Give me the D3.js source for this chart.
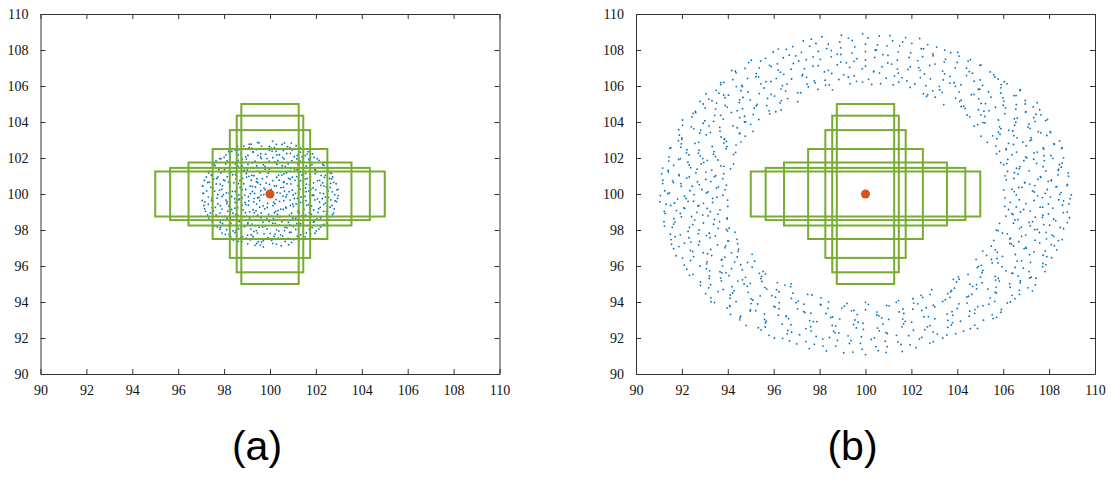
<!DOCTYPE html>
<html>
<head>
<meta charset="utf-8">
<script src="https://cdn.jsdelivr.net/npm/d3@7"></script>
<style>
  body { margin: 0; background: #fff; }
</style>
</head>
<body>
<div id="chart"></div>
<script>
// Canvas size
var width = 1111;
var height = 484;

// Axis ticks, same on both panels
var tickValues = [90, 92, 94, 96, 98, 100, 102, 104, 106, 108, 110];

// Centre marker
var centre = [100, 100];

// Search boxes (same in both panels), edges in data units
var boxLeft   = [98.75, 98.55, 98.25, 97.5, 96.45, 95.65, 95];
var boxRight  = [101.25, 101.45, 101.75, 102.5, 103.55, 104.35, 105];
var boxBottom = [95, 95.65, 96.45, 97.5, 98.25, 98.55, 98.75];
var boxTop    = [105, 104.35, 103.55, 102.5, 101.75, 101.45, 101.25];

// Panel (a): scattered points in a small disc round the centre
var discPoints = [
  [99.35,97.15],[99.71,97.06],[100.49,97.13],
  [98.77,97.36],[99.42,97.25],[99.63,97.34],[100.28,97.22],[100.94,97.31],
  [98.41,97.44],[98.72,97.57],[99.45,97.49],[99.71,97.41],[100.37,97.55],[101.03,97.47],[101.24,97.58],
  [98.22,97.75],[98.81,97.62],[99.02,97.71],[99.74,97.78],[100.18,97.64],[100.46,97.73],[101.19,97.66],[101.77,97.79],
  [97.91,97.83],[98.52,97.96],[98.75,97.85],[99.3,97.92],[100.01,97.81],[100.63,97.97],[100.92,97.88],[101.58,97.84],[102.02,97.95],
  [97.84,98.14],[98.11,98.02],[98.89,98.18],[99.17,98.06],[99.52,98.15],[100.29,98.01],[100.74,98.12],[101.02,98.19],[101.71,98.05],[102.2,98.16],
  [97.58,98.22],[98.3,98.37],[98.51,98.26],[99.22,98.33],[99.8,98.21],[100.12,98.38],[100.87,98.28],[101.34,98.35],[101.63,98.24],[102.35,98.31],
  [97.52,98.56],[97.83,98.43],[98.56,98.52],[99.04,98.41],[99.38,98.58],[99.97,98.47],[100.61,98.55],[100.8,98.42],[101.47,98.59],[101.92,98.46],[102.41,98.53],
  [97.33,98.66],[98.02,98.75],[98.27,98.63],[98.98,98.77],[99.61,98.68],[99.86,98.61],[100.44,98.74],[101.12,98.65],[101.37,98.78],[102.05,98.62],[102.63,98.73],
  [97.4,98.95],[97.65,98.84],[98.39,98.93],[98.6,98.82],[99.31,98.97],[99.94,98.86],[100.19,98.96],[100.85,98.83],[101.28,98.94],[101.81,98.87],[102.09,98.98],[102.72,98.85],
  [97.19,99.03],[97.91,99.16],[98.16,99.05],[98.83,99.12],[99.12,99.01],[99.77,99.17],[100.35,99.08],[100.58,99.14],[101.21,99.02],[101.9,99.11],[102.34,99.04],[102.8,99.18],
  [97.12,99.36],[97.48,99.24],[98.21,99.33],[98.47,99.21],[99.06,99.38],[99.55,99.27],[100.13,99.35],[100.71,99.22],[101.02,99.31],[101.6,99.37],[102.19,99.26],[102.5,99.34],
  [97.5,99.57],[97.73,99.45],[98.48,99.53],[98.95,99.42],[99.29,99.56],[99.9,99.48],[100.42,99.59],[100.99,99.44],[101.44,99.55],[101.68,99.41],[102.41,99.51],[102.9,99.58],
  [97.05,99.64],[97.69,99.77],[98.08,99.66],[98.67,99.73],[99.08,99.62],[99.46,99.78],[100.26,99.69],[100.6,99.63],[101.19,99.76],[101.96,99.67],[102.28,99.74],[102.84,99.61],
  [97.31,99.83],[97.97,99.96],[98.33,99.86],[98.9,99.94],[99.52,99.82],[99.73,99.97],[100.57,99.88],[101.01,99.95],[101.36,99.84],[101.84,99.93],[102.55,99.81],[102.97,99.91],
  [97.08,100.04],[97.59,100.16],[98.22,100.06],[98.48,100.14],[99.15,100.02],[99.6,100.18],[100.31,100.07],[100.83,100.13],[101.11,100.03],[101.69,100.17],[102.18,100.05],[102.71,100.12],
  [97.42,100.37],[97.8,100.22],[98.56,100.33],[98.79,100.24],[99.37,100.39],[100.05,100.26],[100.48,100.35],[100.97,100.21],[101.55,100.34],[101.78,100.27],[102.46,100.38],[102.92,100.23],
  [97.07,100.44],[97.66,100.56],[97.93,100.47],[98.62,100.58],[99.24,100.42],[99.58,100.53],[100.19,100.45],[100.74,100.57],[101.27,100.43],[101.58,100.55],[102.22,100.48],[102.64,100.59],
  [97.36,100.66],[97.98,100.78],[98.43,100.63],[98.69,100.75],[99.41,100.68],[99.83,100.61],[100.4,100.77],[100.62,100.67],[101.33,100.74],[101.9,100.62],[102.16,100.76],[102.78,100.65],
  [97.23,100.95],[97.55,100.83],[98.14,100.96],[98.81,100.87],[99.08,100.98],[99.67,100.85],[100.29,100.93],[100.88,100.82],[101.16,100.97],[101.62,100.86],[102.37,100.92],[102.69,100.84],
  [97.47,101.04],[97.86,101.17],[98.5,101.07],[98.97,101.14],[99.3,101.02],[99.93,101.16],[100.52,101.05],[100.72,101.18],[101.43,101.08],[101.97,101.13],[102.23,101.03],[102.68,101.15],
  [97.35,101.25],[98.02,101.36],[98.31,101.22],[98.88,101.33],[99.49,101.27],[99.79,101.38],[100.45,101.24],[101.07,101.35],[101.31,101.21],[101.95,101.37],[102.52,101.28],
  [97.61,101.58],[97.89,101.43],[98.61,101.55],[99.14,101.46],[99.42,101.57],[100.08,101.44],[100.67,101.53],[100.9,101.41],[101.58,101.56],[102.09,101.47],[102.35,101.59],
  [97.56,101.64],[98.25,101.77],[98.49,101.66],[99.23,101.74],[99.71,101.62],[100.2,101.78],[100.79,101.67],[101.24,101.73],[101.83,101.63],[102.4,101.76],
  [97.81,101.96],[98.13,101.84],[98.79,101.93],[99.35,101.82],[99.62,101.97],[100.34,101.86],[100.61,101.95],[101.31,101.83],[101.69,101.94],[102.14,101.87],
  [98.0,102.04],[98.62,102.17],[98.94,102.06],[99.47,102.15],[100.12,102.02],[100.41,102.18],[101.06,102.07],[101.54,102.13],[101.92,102.03],
  [98.2,102.36],[98.54,102.23],[99.27,102.34],[99.81,102.21],[100.09,102.37],[100.73,102.25],[101.33,102.33],[101.62,102.22],
  [98.48,102.44],[99.09,102.57],[99.41,102.46],[100.05,102.55],[100.58,102.42],[100.87,102.58],[101.51,102.49],
  [98.86,102.66],[99.18,102.77],[99.97,102.64],[100.52,102.75],[101.14,102.68],
  [99.46,102.87],[100.11,102.94],[100.63,102.84],
  // second sweep
  [99.03,97.23],[99.58,97.16],[100.12,97.26],[100.81,97.18],
  [98.62,97.37],[99.14,97.45],[99.49,97.35],[100.07,97.43],[100.66,97.36],[101.28,97.44],
  [98.29,97.63],[98.97,97.55],[99.26,97.64],[99.91,97.57],[100.55,97.66],[100.79,97.54],[101.53,97.62],
  [98.05,97.76],[98.47,97.85],[99.18,97.74],[99.45,97.83],[100.22,97.77],[100.85,97.86],[101.34,97.73],[101.96,97.82],
  [97.82,98.04],[98.39,97.95],[98.63,98.07],[99.41,97.97],[99.87,98.06],[100.39,97.94],[101.12,98.03],[101.45,97.96],[102.13,98.05],
  [97.7,98.17],[98.2,98.26],[98.74,98.14],[99.36,98.24],[99.68,98.16],[100.4,98.27],[100.66,98.15],[101.27,98.23],[101.84,98.13],[102.26,98.25],
  [97.49,98.45],[97.93,98.36],[98.66,98.47],[99.03,98.34],[99.69,98.43],[100.23,98.37],[100.52,98.46],[101.17,98.35],[101.89,98.44],[102.47,98.38],
  [97.44,98.55],[98.13,98.64],[98.42,98.57],[99.11,98.66],[99.54,98.53],[100.15,98.63],[100.73,98.56],[100.99,98.65],[101.66,98.54],[102.21,98.67],[102.58,98.58],
  [97.28,98.84],[97.74,98.76],[98.5,98.85],[98.88,98.73],[99.46,98.83],[100.07,98.77],[100.33,98.86],[101.02,98.74],[101.55,98.82],[101.94,98.75],[102.46,98.87],
  [97.54,99.06],[97.82,98.94],[98.28,99.05],[98.93,98.96],[99.39,99.07],[99.62,98.95],[100.25,99.04],[100.94,98.93],[101.25,99.06],[101.71,98.97],[102.46,99.03],[102.77,98.94],
  [97.15,99.17],[97.62,99.26],[98.33,99.15],[98.59,99.24],[99.26,99.13],[99.88,99.25],[100.47,99.16],[100.69,99.27],[101.48,99.14],[101.73,99.23],[102.12,99.18],[102.62,99.27],
  [97.31,99.43],[97.84,99.35],[98.12,99.47],[98.78,99.36],[99.42,99.44],[99.7,99.34],[100.21,99.46],[100.89,99.37],[101.14,99.45],[101.81,99.33],[102.34,99.42],[102.7,99.36],
  [97.16,99.56],[97.45,99.65],[98.13,99.57],[98.63,99.67],[98.91,99.54],[99.55,99.64],[100.16,99.55],[100.88,99.66],[101.33,99.53],[101.57,99.63],[102.16,99.56],[102.65,99.67],
  [97.47,99.77],[97.91,99.86],[98.46,99.74],[98.79,99.78],[99.06,99.85],[99.31,99.76],[100.7,99.84],[101.06,99.75],[101.53,99.87],[102.07,99.73],[102.41,99.83],[102.94,99.76],
  [97.1,100.04],[97.72,99.96],[98.1,100.06],[98.64,99.95],[99.33,100.03],[99.61,99.94],[100.44,100.05],[100.73,99.97],[101.25,100.06],[101.91,99.93],[102.33,100.02],[102.82,99.96],
  [97.24,100.17],[97.9,100.26],[98.36,100.15],[98.94,100.25],[99.23,100.14],[99.79,100.24],[100.63,100.16],[101.31,100.27],[101.57,100.13],[101.99,100.23],[102.53,100.18],[102.96,100.26],
  [97.06,100.44],[97.52,100.35],[98.27,100.46],[98.7,100.36],[99.14,100.43],[99.74,100.33],[100.28,100.45],[100.59,100.37],[101.22,100.47],[101.88,100.34],[102.35,100.44],[102.62,100.36],
  [97.29,100.64],[97.83,100.55],[98.19,100.66],[98.86,100.57],[99.47,100.63],[99.98,100.54],[100.58,100.65],[100.91,100.56],[101.45,100.67],[101.72,100.53],[102.29,100.62],[102.88,100.57],
  [97.14,100.75],[97.68,100.86],[98.04,100.73],[98.52,100.84],[99.18,100.77],[99.43,100.85],[100.12,100.74],[100.81,100.87],[101.09,100.76],[101.53,100.83],[102.07,100.73],[102.6,100.86],
  [97.44,101.06],[97.73,100.95],[98.37,101.07],[98.98,100.94],[99.21,101.03],[99.86,100.96],[100.38,101.05],[100.97,100.93],[101.39,101.06],[101.76,100.97],[102.41,101.04],[102.73,100.95],
  [97.32,101.16],[97.99,101.25],[98.23,101.14],[98.82,101.27],[99.56,101.17],[99.91,101.24],[100.61,101.13],[100.86,101.26],[101.55,101.15],[102.04,101.23],[102.61,101.17],
  [97.49,101.45],[97.77,101.36],[98.48,101.44],[99.01,101.34],[99.27,101.46],[99.97,101.37],[100.54,101.43],[101.18,101.35],[101.46,101.47],[101.98,101.33],[102.56,101.42],
  [97.5,101.55],[98.07,101.66],[98.79,101.56],[99.04,101.64],[99.78,101.53],[100.3,101.65],[100.53,101.57],[101.21,101.67],[101.75,101.54],[102.3,101.63],
  [97.65,101.84],[98.38,101.75],[98.61,101.86],[99.24,101.76],[99.97,101.83],[100.27,101.74],[100.95,101.85],[101.42,101.77],[101.72,101.86],[102.31,101.74],
  [97.86,101.96],[98.25,102.05],[98.97,101.94],[99.59,102.06],[99.87,101.97],[100.55,102.04],[101.17,101.95],[101.4,102.07],[102.06,101.96],
  [98.08,102.16],[98.74,102.25],[99.04,102.14],[99.6,102.24],[100.3,102.17],[100.89,102.26],[101.18,102.15],[101.85,102.23],
  [98.34,102.36],[98.63,102.45],[99.25,102.34],[99.98,102.43],[100.27,102.37],[100.96,102.44],[101.66,102.35],
  [98.58,102.64],[99.21,102.55],[99.63,102.66],[100.19,102.57],[100.76,102.63],[101.32,102.56],
  [99.1,102.77],[99.52,102.84],[100.28,102.76],[100.93,102.83]
];

// Panel (b): scattered points in a wide ring round the centre
var ringPoints = [
  // upper half
  [93.88,100.23],[93.07,100.05],[92.35,100.18],[91.39,100.02],[106.39,100.27],[107.35,100.11],[107.92,100.25],[108.52,100.08],
  [93.51,100.33],[92.76,100.51],[91.97,100.43],[91.16,100.58],[106.82,100.37],[107.15,100.55],[108.3,100.4],[108.78,100.47],
  [93.78,100.85],[93.26,100.69],[92.21,100.88],[91.63,100.64],[106.13,100.79],[106.95,100.62],[107.52,100.82],[108.09,100.73],
  [93.42,100.96],[92.61,101.17],[91.88,101.02],[91.12,101.12],[106.49,101.18],[107.64,100.93],[108.39,101.06],[108.85,100.99],
  [94.12,101.4],[93.05,101.22],[92.38,101.46],[91.4,101.31],[106.19,101.25],[106.58,101.43],[107.86,101.28],[108.53,101.49],
  [93.83,101.54],[92.84,101.68],[92.26,101.77],[91.64,101.59],[105.89,101.74],[106.72,101.52],[107.46,101.7],[108.45,101.64],
  [93.46,102.08],[93.11,101.87],[91.93,101.97],[91.43,101.83],[106.2,101.92],[106.98,102.06],[107.79,101.85],[108.63,102.01],
  [94.25,102.2],[93.4,102.35],[92.8,102.12],[92.2,102.29],[105.84,102.37],[106.38,102.18],[107.48,102.33],[108.08,102.14],
  [93.96,102.64],[92.75,102.43],[91.95,102.6],[91.47,102.53],[106.13,102.46],[107.0,102.68],[107.77,102.5],[108.57,102.58],
  [94.36,102.72],[93.94,102.92],[92.57,102.81],[91.85,102.96],[105.31,102.87],[106.45,102.75],[107.17,102.97],[108.21,102.78],
  [94.76,103.21],[93.86,103.06],[93.06,103.28],[92.0,103.03],[105.54,103.23],[106.6,103.12],[107.23,103.02],[107.9,103.25],
  [94.51,103.35],[93.66,103.49],[92.78,103.39],[91.86,103.57],[105.86,103.32],[106.24,103.54],[107.53,103.46],[108.07,103.41],
  [95.0,103.87],[94.41,103.68],[93.18,103.78],[92.52,103.62],[104.89,103.85],[105.84,103.73],[106.5,103.82],[107.17,103.65],
  [94.78,104.01],[93.8,104.16],[92.93,103.93],[92.03,104.11],[105.12,103.97],[106.49,104.18],[107.39,104.04],[107.93,104.14],
  [95.83,104.45],[94.52,104.24],[93.69,104.37],[92.49,104.48],[104.54,104.29],[105.03,104.4],[106.61,104.22],[107.43,104.43],
  [96.09,104.57],[95.15,104.77],[94.41,104.63],[93.47,104.72],[92.6,104.52],[104.34,104.75],[105.16,104.6],[106.1,104.78],[106.97,104.55],[107.59,104.68],
  [96.28,105.06],[95.7,104.91],[94.5,105.08],[93.97,104.83],[92.93,105.0],[104.17,104.86],[105.04,105.03],[105.66,104.82],[106.57,104.97],[107.48,105.07],
  [97.05,105.13],[95.73,105.31],[94.98,105.22],[93.88,105.35],[93.31,105.18],[103.04,105.38],[104.1,105.15],[104.93,105.29],[105.99,105.34],[106.96,105.2],
  [97.05,105.63],[96.04,105.44],[94.88,105.67],[93.82,105.5],[93.05,105.57],[102.66,105.42],[103.34,105.65],[104.73,105.53],[105.36,105.68],[106.56,105.47],
  [98.56,105.79],[97.51,105.95],[96.52,105.72],[95.58,105.89],[94.37,105.97],[93.49,105.76],[101.94,105.92],[102.93,105.73],[103.92,105.98],[104.91,105.82],[105.9,105.9],[106.73,105.75],
  [93.69,106.19],[94.61,106.03],[95.66,106.24],[96.58,106.1],[97.77,106.28],[98.42,106.06],[99.61,106.26],[100.66,106.13],[101.45,106.21],[102.63,106.02],[103.68,106.16],[104.73,106.27],[105.91,106.08],
  [94.22,106.35],[95.23,106.52],[96.11,106.41],[97.24,106.57],[98.24,106.32],[99.25,106.5],[100.13,106.37],[101.26,106.55],[102.39,106.47],[103.39,106.34],[104.4,106.58],[105.78,106.39],
  [94.17,106.86],[95.24,106.69],[96.19,106.88],[97.26,106.65],[98.21,106.78],[99.05,106.62],[100.36,106.83],[101.43,106.72],[102.38,106.87],[103.45,106.67],[104.52,106.8],[105.59,106.63],
  [94.75,106.98],[95.82,107.15],[96.76,106.93],[97.71,107.1],[98.77,107.18],[99.86,106.96],[100.72,107.07],[101.85,106.92],[102.8,107.14],[103.91,107.01],[105.03,107.17],
  [95.02,107.43],[96.16,107.23],[97.09,107.39],[98.03,107.48],[99.17,107.29],[100.0,107.45],[101.14,107.22],[102.28,107.41],[103.43,107.33],[104.57,107.46],
  [95.64,107.54],[96.68,107.71],[97.72,107.62],[98.77,107.77],[99.62,107.52],[100.76,107.74],[101.9,107.59],[102.94,107.78],[104.08,107.66],
  [96.2,108.05],[97.21,107.87],[98.31,108.08],[99.41,107.83],[100.42,107.99],[101.43,107.9],[102.53,108.07],[103.71,107.85],
  [96.83,108.19],[97.84,108.36],[98.92,108.12],[100.0,108.32],[100.94,108.23],[102.02,108.37],[103.1,108.16],
  [97.64,108.6],[98.88,108.45],[100.11,108.67],[101.18,108.51],[102.36,108.64],
  [98.95,108.82],[99.88,108.9],[101.07,108.8],
  // lower half
  [93.34,99.76],[92.53,99.97],[91.81,99.72],[91.06,99.91],[106.57,99.95],[107.71,99.8],[108.46,99.98],[108.91,99.74],
  [93.99,99.66],[92.94,99.48],[92.27,99.59],[91.31,99.43],[106.31,99.53],[106.7,99.68],[107.97,99.45],[108.63,99.62],
  [93.66,99.12],[92.69,99.33],[92.12,99.2],[91.51,99.36],[106.07,99.31],[106.89,99.14],[107.61,99.27],[108.58,99.38],
  [93.24,99.02],[92.91,98.83],[91.76,99.08],[91.27,98.92],[106.43,98.86],[107.18,99.05],[107.97,98.89],[108.79,98.99],
  [93.97,98.61],[93.14,98.78],[92.56,98.55],[91.98,98.73],[106.12,98.77],[106.64,98.58],[107.71,98.7],[108.29,98.52],
  [93.64,98.47],[92.47,98.3],[91.7,98.44],[91.24,98.22],[106.45,98.38],[107.28,98.46],[108.02,98.27],[108.79,98.41],
  [93.99,97.95],[93.58,98.09],[92.27,97.92],[91.58,98.15],[105.7,97.99],[106.79,98.17],[107.48,98.03],[108.48,98.14],
  [94.31,97.88],[93.46,97.67],[92.71,97.8],[91.7,97.63],[105.97,97.84],[106.98,97.72],[107.58,97.86],[108.21,97.65],
  [94.03,97.38],[93.23,97.57],[92.39,97.33],[91.53,97.47],[106.33,97.55],[106.68,97.35],[107.89,97.51],[108.41,97.41],
  [94.43,97.24],[93.87,97.02],[92.73,97.18],[92.11,97.27],[105.48,97.1],[106.36,97.22],[106.98,97.04],[107.59,97.28],
  [94.16,96.73],[93.26,96.92],[92.47,96.81],[91.64,96.96],[105.74,96.76],[107.0,96.98],[107.83,96.84],[108.33,96.9],
  [95.06,96.65],[93.87,96.49],[93.12,96.68],[92.03,96.44],[105.28,96.59],[105.73,96.42],[107.15,96.63],[107.9,96.52],
  [94.86,96.2],[93.74,96.36],[93.08,96.12],[92.38,96.31],[104.82,96.37],[105.77,96.17],[106.61,96.27],[107.73,96.14],
  [94.56,96.07],[94.16,95.85],[92.79,96.0],[92.21,95.82],[105.04,96.04],[105.95,95.96],[106.88,95.88],[107.86,96.08],
  [95.64,95.56],[94.63,95.78],[93.92,95.62],[93.21,95.73],[104.47,95.53],[105.11,95.75],[106.42,95.59],[107.13,95.69],
  [95.47,95.42],[94.64,95.23],[94.05,95.46],[93.19,95.31],[92.33,95.48],[103.83,95.26],[105.01,95.38],[105.67,95.22],[106.65,95.44],[107.16,95.34],
  [96.49,94.94],[95.49,95.14],[94.71,95.0],[93.72,95.17],[92.81,94.92],[103.97,95.11],[104.84,94.97],[105.83,95.16],[106.74,95.07],[107.4,94.95],
  [96.74,94.85],[96.12,94.68],[94.85,94.88],[94.27,94.63],[93.17,94.79],[103.75,94.65],[104.67,94.87],[105.33,94.72],[106.3,94.82],[107.27,94.62],
  [97.67,94.39],[96.23,94.57],[95.41,94.34],[94.21,94.5],[93.58,94.58],[102.42,94.37],[103.58,94.47],[104.49,94.32],[105.65,94.55],[106.71,94.42],
  [98.06,94.23],[97.07,94.05],[96.08,94.27],[95.09,94.11],[94.1,94.21],[93.27,94.02],[101.44,94.08],[102.49,94.26],[103.48,94.13],[104.42,94.28],[105.63,94.04],[106.51,94.19],
  [94.09,93.75],[95.01,93.91],[96.06,93.72],[96.98,93.96],[98.03,93.87],[99.08,93.77],[100.0,93.98],[100.92,93.81],[102.1,93.94],[103.02,93.73],[104.07,93.9],[105.12,93.79],[106.18,93.95],
  [93.97,93.67],[94.98,93.5],[96.23,93.63],[97.36,93.42],[98.37,93.65],[99.5,93.53],[100.5,93.44],[101.63,93.61],[102.64,93.68],[103.77,93.46],[104.77,93.58],[105.9,93.43],
  [94.53,93.13],[95.6,93.34],[96.55,93.22],[97.62,93.38],[98.57,93.17],[99.64,93.3],[100.71,93.12],[101.67,93.36],[102.74,93.19],[103.81,93.27],[104.76,93.37],[105.71,93.15],
  [94.52,93.01],[95.64,92.84],[96.65,93.08],[97.88,92.91],[98.88,93.05],[99.89,92.82],[101.01,93.03],[102.01,92.88],[103.02,93.07],[104.14,92.93],[105.14,92.99],
  [95.33,92.57],[96.37,92.77],[97.4,92.52],[98.55,92.7],[99.48,92.75],[100.52,92.55],[101.66,92.78],[102.7,92.62],[103.74,92.72],[104.88,92.53],
  [95.45,92.45],[96.59,92.23],[97.63,92.4],[98.67,92.29],[99.91,92.48],[100.95,92.25],[102.09,92.43],[103.13,92.22],[104.27,92.38],
  [96.03,92.0],[97.13,92.18],[98.14,91.94],[99.24,92.12],[100.25,91.92],[101.35,92.15],[102.45,92.03],[103.54,92.17],
  [96.69,91.84],[97.77,91.65],[98.78,91.87],[99.78,91.7],[100.86,91.82],[101.94,91.62],[102.95,91.79],
  [97.55,91.41],[98.7,91.55],[99.85,91.38],[100.95,91.52],[102.2,91.47],
  [99.05,91.18],[100.0,91.08],[100.9,91.2],
  // second sweep, upper half
  [93.79,99.93],[93.13,100.11],[92.11,99.88],[91.45,100.06],[106.48,100.13],[107.5,99.9],[107.83,100.03],[108.97,99.95],
  [93.59,100.4],[92.87,100.25],[92.45,100.43],[91.25,100.18],[106.02,100.22],[106.68,100.36],[107.28,100.17],[108.33,100.41],
  [93.94,100.49],[92.68,100.68],[91.95,100.58],[91.59,100.73],[106.93,100.64],[107.38,100.47],[107.96,100.7],[108.8,100.54],
  [93.47,101.02],[93.04,100.81],[92.32,100.95],[91.17,100.77],[106.08,101.01],[106.47,100.86],[107.62,100.97],[108.1,100.79],
  [93.82,101.13],[93.3,101.33],[91.87,101.08],[91.41,101.23],[106.64,101.1],[107.13,101.29],[108.4,101.32],[108.83,101.17],
  [93.7,101.56],[92.66,101.38],[92.32,101.61],[91.16,101.44],[106.02,101.63],[106.7,101.4],[107.74,101.52],[108.41,101.37],
  [94.25,101.67],[93.57,101.89],[92.95,101.76],[91.86,101.92],[106.15,101.69],[106.9,101.85],[107.33,101.93],[108.57,101.72],
  [93.38,102.21],[92.91,101.97],[92.31,102.17],[91.44,102.05],[105.71,102.23],[107.03,102.01],[107.78,102.13],[108.16,101.98],
  [94.34,102.31],[93.93,102.52],[92.72,102.27],[92.22,102.46],[106.13,102.5],[106.58,102.33],[107.34,102.28],[108.54,102.53],
  [93.83,102.83],[93.32,102.64],[91.97,102.79],[91.52,102.58],[105.68,102.66],[106.23,102.81],[107.74,102.57],[108.23,102.77],
  [94.57,102.9],[93.85,103.04],[92.73,102.87],[92.0,103.12],[105.73,103.07],[106.85,102.89],[107.21,103.13],[108.46,102.95],
  [94.52,103.38],[93.71,103.17],[93.24,103.42],[91.89,103.27],[105.04,103.21],[105.79,103.43],[106.46,103.24],[107.64,103.4],
  [95.1,103.48],[93.65,103.7],[92.82,103.55],[92.41,103.73],[105.9,103.63],[106.42,103.5],[107.08,103.72],[108.04,103.47],
  [94.73,104.0],[94.23,103.79],[93.38,104.03],[92.03,103.83],[104.74,103.77],[105.2,103.95],[106.55,103.99],[107.12,103.88],
  [95.35,104.14],[94.73,104.32],[93.0,104.07],[92.44,104.28],[105.2,104.31],[105.79,104.11],[107.33,104.24],[107.85,104.08],
  [95.8,104.62],[95.11,104.42],[94.16,104.53],[93.43,104.37],[92.59,104.59],[104.43,104.39],[105.38,104.63],[106.07,104.46],[106.99,104.57],[107.64,104.4],
  [96.32,104.67],[95.24,104.9],[94.64,104.74],[93.89,104.92],[93.01,104.78],[104.28,104.88],[104.92,104.68],[106.0,104.93],[106.55,104.71],[107.31,104.84],
  [96.33,105.19],[95.28,104.98],[94.52,105.23],[93.51,105.05],[92.79,105.14],[103.41,104.97],[104.17,105.21],[105.23,105.02],[106.03,105.16],[106.96,105.0],
  [96.61,105.3],[95.89,105.53],[94.66,105.36],[94.03,105.49],[93.17,105.27],[102.71,105.51],[103.93,105.33],[104.61,105.52],[105.47,105.38],[106.47,105.46],
  [97.93,105.81],[97.18,105.63],[96.32,105.83],[95.37,105.58],[94.57,105.74],[93.61,105.6],[102.52,105.57],[103.23,105.78],[104.08,105.66],[104.98,105.82],[105.89,105.61],[106.74,105.8],
  [93.69,106.08],[94.63,105.97],[95.44,106.12],[96.38,106.02],[97.45,106.1],[98.26,106.05],[99.33,106.13],[100.27,106.09],[101.21,106.06],[102.15,106.11],[103.22,105.98],[104.16,106.07],[105.1,106.03],[106.17,106.12],
  [93.83,106.2],[94.86,106.42],[95.88,106.25],[96.78,106.39],[97.81,106.17],[98.84,106.36],[99.87,106.22],[100.9,106.43],[101.8,106.28],[102.83,106.4],[103.86,106.18],[105.0,106.34],[106.04,106.24],
  [94.36,106.73],[95.34,106.51],[96.44,106.65],[97.43,106.48],[98.53,106.7],[99.51,106.56],[100.61,106.72],[101.59,106.47],[102.57,106.67],[103.68,106.54],[104.66,106.71],[105.64,106.5],
  [94.33,106.82],[95.37,107.01],[96.29,106.77],[97.34,106.96],[98.38,106.87],[99.31,107.03],[100.35,106.79],[101.39,106.94],[102.32,107.02],[103.36,106.83],[104.4,106.99],[105.44,106.78],
  [94.91,107.3],[95.89,107.08],[96.86,107.25],[97.94,107.13],[98.92,107.33],[100.0,107.1],[100.97,107.28],[101.95,107.07],[103.03,107.22],[104.0,107.31],[104.98,107.15],
  [95.43,107.39],[96.42,107.57],[97.42,107.46],[98.51,107.62],[99.5,107.37],[100.4,107.59],[101.39,107.43],[102.49,107.63],[103.48,107.48],[104.47,107.38],
  [95.98,107.89],[96.96,107.67],[97.94,107.92],[98.93,107.75],[100.0,107.91],[100.98,107.7],[101.97,107.84],[102.95,107.68],[104.02,107.87],
  [96.55,108.04],[97.57,108.21],[98.51,107.97],[99.53,108.17],[100.47,108.0],[101.49,108.23],[102.43,108.07],[103.45,107.99],
  [97.29,108.5],[98.38,108.32],[99.42,108.53],[100.52,108.28],[101.62,108.45],[102.71,108.3],
  [98.1,108.74],[99.25,108.66],[100.6,108.78],[101.75,108.69],
  // second sweep, lower half
  [93.53,99.82],[92.51,99.6],[92.18,99.75],[91.04,99.57],[106.08,99.79],[107.34,99.64],[108.06,99.83],[108.42,99.68],
  [94.0,99.31],[93.34,99.53],[92.74,99.36],[91.68,99.5],[106.57,99.28],[106.99,99.47],[107.72,99.27],[108.86,99.45],
  [93.1,99.2],[92.65,98.98],[92.08,99.23],[91.23,99.03],[106.23,99.14],[106.75,99.0],[108.16,99.22],[108.62,98.97],
  [93.97,98.67],[93.57,98.88],[92.42,98.75],[91.93,98.92],[106.37,98.91],[107.4,98.71],[107.73,98.82],[108.89,98.68],
  [93.42,98.59],[92.94,98.39],[91.65,98.63],[91.22,98.46],[105.84,98.37],[106.51,98.56],[107.13,98.42],[108.2,98.61],
  [94.06,98.1],[93.38,98.32],[92.33,98.14],[91.64,98.33],[106.71,98.08],[107.18,98.24],[107.77,98.3],[108.63,98.07],
  [93.94,98.03],[93.19,97.82],[92.75,98.0],[91.5,97.77],[105.78,97.96],[106.18,97.79],[107.37,98.02],[107.87,97.87],
  [94.4,97.48],[93.07,97.69],[92.31,97.57],[91.93,97.73],[106.29,97.5],[106.8,97.65],[108.13,97.71],[108.57,97.47],
  [94.0,97.4],[93.55,97.17],[92.77,97.36],[91.55,97.21],[105.59,97.42],[106.29,97.25],[107.39,97.43],[108.1,97.19],
  [94.47,96.93],[93.91,97.12],[92.37,96.87],[91.87,97.08],[105.66,96.9],[106.45,97.11],[106.91,96.96],[108.23,97.13],
  [94.45,96.81],[93.3,96.58],[92.93,96.74],[91.75,96.57],[105.11,96.83],[106.53,96.64],[107.34,96.79],[107.74,96.6],
  [95.17,96.27],[94.41,96.5],[93.72,96.33],[92.51,96.52],[105.49,96.36],[105.97,96.53],[106.8,96.29],[108.11,96.46],
  [94.3,96.22],[93.77,96.01],[93.1,96.23],[92.1,96.05],[104.92,95.98],[105.52,96.17],[107.19,96.2],[107.72,95.97],
  [95.54,95.7],[95.06,95.93],[93.66,95.68],[93.07,95.85],[104.87,95.91],[106.12,95.73],[106.52,95.92],[107.82,95.69],
  [95.38,95.59],[94.77,95.37],[93.74,95.62],[93.2,95.44],[92.48,95.54],[104.05,95.4],[105.08,95.63],[105.65,95.42],[106.38,95.6],[107.22,95.38],
  [96.16,95.08],[95.44,95.3],[94.44,95.16],[93.69,95.33],[92.81,95.11],[104.08,95.27],[105.08,95.07],[105.79,95.31],[106.75,95.18],[107.43,95.32],
  [96.76,95.01],[95.62,94.8],[94.98,95.03],[94.18,94.85],[93.25,94.96],[103.88,94.77],[104.55,94.99],[105.69,94.83],[106.28,95.02],[107.08,94.79],
  [96.84,94.49],[95.7,94.72],[94.89,94.54],[93.8,94.7],[93.03,94.47],[102.89,94.68],[103.71,94.57],[104.84,94.73],[105.7,94.5],[106.7,94.65],
  [97.48,94.42],[96.77,94.2],[95.92,94.35],[95.02,94.17],[94.11,94.39],[93.26,94.24],[102.07,94.18],[102.82,94.41],[103.68,94.26],[104.63,94.43],[105.43,94.22],[106.39,94.37],
  [93.42,93.97],[94.36,94.02],[95.3,93.89],[96.24,93.96],[97.32,93.88],[98.39,94.01],[99.19,93.92],[100.13,93.87],[101.34,93.98],[102.28,93.9],[103.36,94.03],[104.43,93.94],[105.37,93.88],[106.31,94.0],
  [94.08,93.8],[94.98,93.58],[96.01,93.76],[97.04,93.62],[98.07,93.83],[98.97,93.66],[100.0,93.57],[101.03,93.79],[102.06,93.6],[102.96,93.82],[103.99,93.64],[104.89,93.74],[105.92,93.59],
  [94.12,93.31],[95.22,93.52],[96.2,93.27],[97.3,93.47],[98.28,93.36],[99.39,93.51],[100.49,93.28],[101.47,93.45],[102.45,93.53],[103.56,93.33],[104.54,93.49],[105.52,93.29],
  [94.56,93.22],[95.6,93.03],[96.53,93.2],[97.57,92.97],[98.49,93.14],[99.54,93.0],[100.58,93.23],[101.62,93.05],[102.55,93.18],[103.59,92.98],[104.52,93.21],[105.56,93.08],
  [94.8,92.7],[95.67,92.93],[96.75,92.74],[97.73,92.91],[98.7,92.67],[99.68,92.88],[100.76,92.77],[101.73,92.92],[102.81,92.69],[103.79,92.85],[104.76,92.72],
  [95.63,92.61],[96.62,92.42],[97.61,92.63],[98.61,92.38],[99.6,92.56],[100.6,92.4],[101.59,92.62],[102.58,92.46],[103.58,92.59],[104.57,92.52],
  [95.8,92.15],[96.78,92.32],[97.85,92.09],[98.84,92.28],[99.82,92.07],[100.89,92.3],[101.88,92.13],[102.95,92.33],[103.93,92.24],
  [96.39,91.98],[97.41,91.8],[98.43,92.03],[99.37,91.86],[100.39,92.01],[101.41,91.78],[102.35,91.95],[103.37,92.0],
  [97.0,91.67],[98.15,91.55],[99.3,91.7],[100.45,91.52],[101.55,91.64],[102.8,91.72],
  [98.3,91.28],[99.45,91.22],[100.55,91.3],[101.6,91.25]
];

// Colours (MATLAB default palette)
var pointColor = "#0072bd";
var boxColor = "#77ac30";
var centreColor = "#d95319";
var axisColor = "#333333";
var tickFont = "'Liberation Serif', 'DejaVu Serif', serif";

var svg = d3.select("#chart").append("svg")
    .attr("width", width)
    .attr("height", height);

// Draw one panel: scatter, boxes, centre, boxed axes and caption
function drawPanel(left, points, caption) {
  var plotW = 459, plotH = 360, top = 14;

  var x = d3.scaleLinear().domain([90, 110]).range([left, left + plotW]);
  var y = d3.scaleLinear().domain([90, 110]).range([top + plotH, top]);

  var g = svg.append("g");

  // scatter
  g.append("g").selectAll("circle")
    .data(points)
    .enter().append("circle")
      .attr("cx", function(d) { return x(d[0]); })
      .attr("cy", function(d) { return y(d[1]); })
      .attr("r", 0.9)
      .attr("fill", pointColor);

  // search boxes
  g.append("g").selectAll("rect")
    .data(boxLeft)
    .enter().append("rect")
      .attr("x", function(d, i) { return x(boxLeft[i]); })
      .attr("y", function(d, i) { return y(boxTop[i]); })
      .attr("width", function(d, i) { return x(boxRight[i]) - x(boxLeft[i]); })
      .attr("height", function(d, i) { return y(boxBottom[i]) - y(boxTop[i]); })
      .attr("fill", "none")
      .attr("stroke", boxColor)
      .attr("stroke-width", 2);

  g.append("circle")
    .attr("cx", x(centre[0]))
    .attr("cy", y(centre[1]))
    .attr("r", 4.5)
    .attr("fill", centreColor);

  // axes with inward ticks on all four sides
  var axisStyle = function(sel) {
    sel.attr("font-family", tickFont).attr("font-size", 14);
    sel.selectAll("path").attr("stroke", axisColor);
    sel.selectAll("line").attr("stroke", axisColor);
    sel.selectAll("text")
      .attr("fill", "#111")
      .style("font-family", tickFont)
      .style("font-size", "14px");
  };

  g.append("g")
    .attr("transform", "translate(0," + (top + plotH) + ")")
    .call(d3.axisBottom(x).tickValues(tickValues).tickSizeInner(-5).tickSizeOuter(0).tickPadding(11))
    .call(axisStyle);

  g.append("g")
    .attr("transform", "translate(" + left + ",0)")
    .call(d3.axisLeft(y).tickValues(tickValues).tickSizeInner(-5).tickSizeOuter(0).tickPadding(12))
    .call(axisStyle);

  g.append("g")
    .attr("transform", "translate(0," + top + ")")
    .call(d3.axisTop(x).tickValues(tickValues).tickSizeInner(-5).tickSizeOuter(0).tickFormat(""))
    .call(axisStyle);

  g.append("g")
    .attr("transform", "translate(" + (left + plotW) + ",0)")
    .call(d3.axisRight(y).tickValues(tickValues).tickSizeInner(-5).tickSizeOuter(0).tickFormat(""))
    .call(axisStyle);

  g.append("text")
    .attr("x", left + plotW / 2 - 13)
    .attr("y", 460)
    .attr("text-anchor", "middle")
    .style("font-family", "'Liberation Sans', Arial, sans-serif")
    .style("font-size", "41px")
    .attr("fill", "#000")
    .text(caption);
}

drawPanel(40.5, discPoints, "(a)");
drawPanel(636, ringPoints, "(b)");
</script>
</body>
</html>
